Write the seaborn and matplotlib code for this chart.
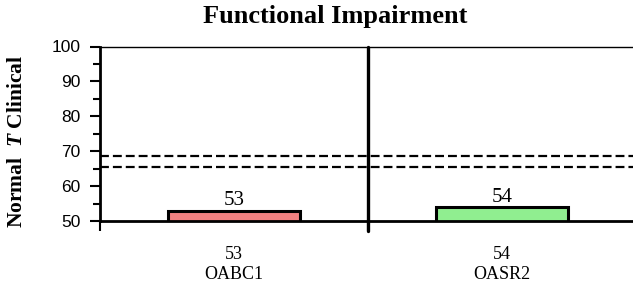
import matplotlib
matplotlib.use('Agg')
import matplotlib.pyplot as plt
import seaborn as sns

# chart data
scales = ['OABC1', 'OASR2']
scores = [53, 54]
bar_colors = ['#F08080', '#90EE90']
borderline_lines = [65.5, 68.5]
y_ticks = [50, 60, 70, 80, 90, 100]

sns.set_style('white')
plt.rcParams['font.family'] = ['Liberation Serif', 'DejaVu Serif']
plt.rcParams['text.color'] = 'black'
plt.rcParams['xtick.color'] = 'black'
plt.rcParams['ytick.color'] = 'black'
plt.rcParams['axes.labelcolor'] = 'black'
plt.rcParams['mathtext.fontset'] = 'custom'
plt.rcParams['mathtext.it'] = 'Liberation Serif:italic:bold'
plt.rcParams['mathtext.rm'] = 'Liberation Serif:bold'

fig = plt.figure(figsize=(6.33, 2.86), dpi=100)
ax = fig.add_axes([100 / 633, 1 - 221 / 286, 536 / 633, (221 - 46.5) / 286])

sns.barplot(x=scales, y=scores, hue=scales, palette=bar_colors, legend=False,
            saturation=1, width=0.49, edgecolor='black', linewidth=2.2, ax=ax)

ax.set_ylim(50, 100)
ax.set_xlim(-0.5, 1.5)

for val in borderline_lines:
    ax.axhline(val, color='black', linestyle=(0, (4, 1.8)), linewidth=1.6, zorder=1)

# divider between the two scales
ax.axvline(0.5, ymin=-0.057, ymax=1, color='black', linewidth=2.4, clip_on=False, zorder=3)

for i, v in enumerate(scores):
    ax.text(i, v + 0.1, str(v), ha='center', va='bottom', fontsize=15,
            family='Liberation Serif', color='black')

# y axis
ax.set_yticks(y_ticks)
ax.set_yticks(range(55, 100, 10), minor=True)
ax.set_yticklabels([str(t) for t in y_ticks], family='Liberation Sans', fontsize=12.5)
ax.tick_params(axis='y', which='major', direction='out', length=7, width=1.5, pad=7, left=True)
ax.tick_params(axis='y', which='minor', direction='out', length=5, width=1.5, left=True)

# x axis: labels at centres, tick marks at boundaries
ax.set_xticks(range(len(scales)))
ax.set_xticklabels([f'{s}\n{n}' for s, n in zip(scores, scales)], fontsize=13,
                   family='Liberation Serif')
ax.set_xticks([-0.5, 0.5, 1.5], minor=True)
ax.tick_params(axis='x', which='major', length=0, pad=18)
ax.tick_params(axis='x', which='minor', direction='out', length=7, width=1.5, bottom=True)
ax.set_xlabel('')
ax.set_ylabel('')

for side in ['left', 'bottom']:
    ax.spines[side].set_linewidth(2)
    ax.spines[side].set_color('black')
ax.spines['top'].set_linewidth(1)
ax.spines['top'].set_color('black')
ax.spines['right'].set_visible(False)

fig.text(335 / 633, 1 - 17 / 286, 'Functional Impairment', ha='center', va='center',
         fontsize=19, fontweight='bold', family='Liberation Serif', color='black')
fig.text(17 / 633, 1 - 141 / 286, r'Normal  $T$ Clinical', rotation=90, ha='center',
         va='center', fontsize=15.5, fontweight='bold', family='Liberation Serif',
         color='black')

fig.savefig('out.png', dpi=100)
